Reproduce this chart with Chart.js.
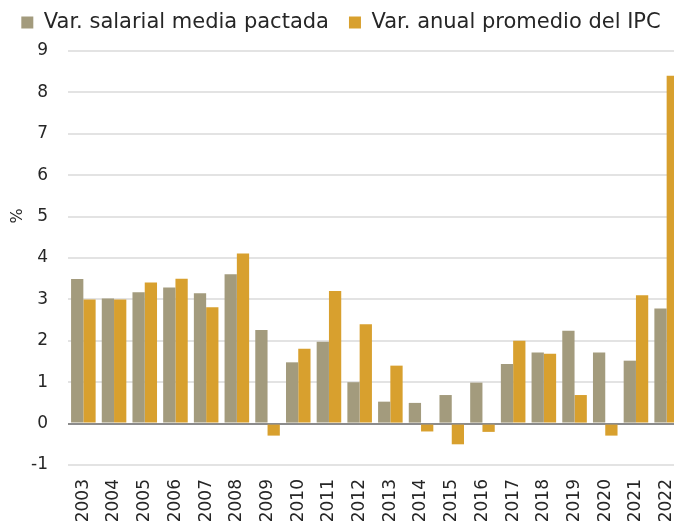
<!DOCTYPE html>
<html>
<head>
<meta charset="utf-8">
<script src="https://cdn.jsdelivr.net/npm/chart.js@4"></script>
<style>
  html, body { margin: 0; padding: 0; background: #fff; overflow: hidden; }
  #wrap { width: 682px; height: 524px; }
</style>
</head>
<body>
<div id="wrap"><canvas id="chart" width="682" height="524"></canvas></div>
<script>
let years = ['2003', '2004', '2005', '2006', '2007', '2008', '2009', '2010', '2011', '2012',
    '2013', '2014', '2015', '2016', '2017', '2018', '2019', '2020', '2021', '2022']
let salarial = [3.49, 3.02, 3.17, 3.29, 3.15, 3.61, 2.26, 1.48, 1.98, 1.0,
    0.53, 0.5, 0.69, 0.99, 1.44, 1.72, 2.24, 1.72, 1.52, 2.78]
let ipc = [3.0, 3.0, 3.41, 3.5, 2.81, 4.11, -0.29, 1.81, 3.2, 2.4,
    1.4, -0.19, -0.5, -0.2, 2.0, 1.69, 0.69, -0.29, 3.1, 8.4]
let y_ticks = [-1, 0, 1, 2, 3, 4, 5, 6, 7, 8, 9]

const font_family = "'DejaVu Sans', sans-serif"
const text_color = '#262626'

let canvas = document.getElementById('chart')
let ctx = canvas.getContext('2d')
// the original font is wider than DejaVu, spread letters a bit
ctx.letterSpacing = '1.2px'

// "%" axis title, placed where the original has it
const percent_title = {
    id: 'percent_title',
    afterDraw(chart) {
        let c = chart.ctx
        c.save()
        c.translate(18, 216)
        c.rotate(-Math.PI / 2)
        c.fillStyle = text_color
        c.font = `16px ${font_family}`
        c.textAlign = 'center'
        c.textBaseline = 'middle'
        c.fillText('%', 0, 0)
        c.restore()
    }
}

// a bit more room under the legend
const legend_gap = {
    id: 'legend_gap',
    afterInit(chart) {
        let fit = chart.legend.fit
        chart.legend.fit = function () {
            fit.bind(chart.legend)()
            this.height += 8
        }
    }
}

let chart = new Chart(ctx, {
    type: 'bar',
    data: {
        labels: years,
        datasets: [{
            label: 'Var. salarial media pactada',
            backgroundColor: '#a39b7d',
            data: salarial
        }, {
            label: 'Var. anual promedio del IPC',
            backgroundColor: '#d8a02e',
            data: ipc
        }]
    },
    plugins: [percent_title, legend_gap],
    options: {
        responsive: false,
        animation: false,
        layout: { padding: { top: -8, left: 0, right: 0, bottom: 0 } },
        datasets: {
            bar: { categoryPercentage: 0.8, barPercentage: 1.0 }
        },
        plugins: {
            tooltip: { enabled: false },
            legend: {
                position: 'top',
                labels: {
                    boxWidth: 12,
                    boxHeight: 12,
                    padding: 20,
                    color: text_color,
                    font: { family: font_family, size: 21 }
                }
            }
        },
        scales: {
            x: {
                grid: { display: false },
                border: { display: false },
                ticks: {
                    minRotation: 90,
                    maxRotation: 90,
                    padding: 6,
                    autoSkip: false,
                    color: text_color,
                    font: { family: font_family, size: 17 }
                },
                afterFit: (scale) => {
                    scale.height = 59
                    scale.paddingLeft = 0
                    scale.paddingRight = 0
                }
            },
            y: {
                min: -1,
                max: 9,
                afterBuildTicks: (scale) => { scale.ticks = y_ticks.map(v => ({ value: v })) },
                grid: {
                    drawTicks: false,
                    lineWidth: 2,
                    color: (c) => c.tick && c.tick.value === 0 ? '#8c8c8c' : '#e3e3e3'
                },
                border: { display: false },
                ticks: {
                    padding: 20,
                    color: text_color,
                    font: { family: font_family, size: 17 }
                },
                afterFit: (scale) => { scale.width = 68 }
            }
        }
    }
})
</script>
</body>
</html>
